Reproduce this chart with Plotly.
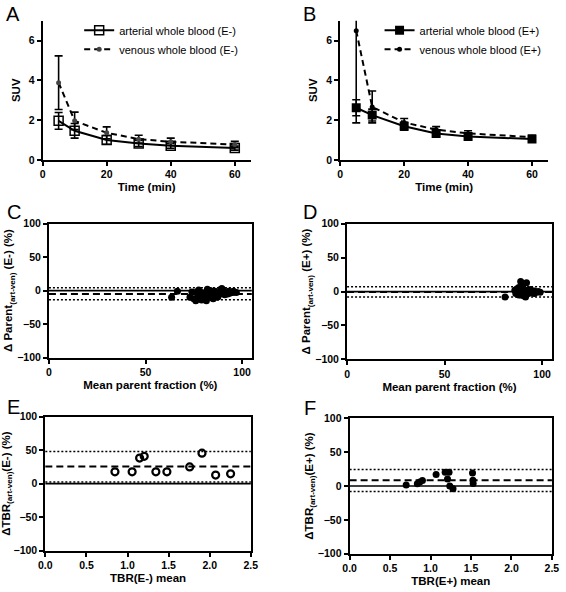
import plotly.graph_objects as go

# ---------------- data ----------------
time_min = [5, 10, 20, 30, 40, 60]

# Panel A (E-)
art_em_mean = [1.96, 1.46, 1.00, 0.82, 0.71, 0.59]
art_em_sd = [0.42, 0.37, 0.22, 0.15, 0.13, 0.10]
ven_em_mean = [3.88, 1.96, 1.36, 1.04, 0.91, 0.77]
ven_em_sd = [1.35, 0.44, 0.30, 0.20, 0.18, 0.16]

# Panel B (E+)
art_ep_mean = [2.62, 2.25, 1.69, 1.33, 1.17, 1.05]
art_ep_sd = [0.40, 0.30, 0.20, 0.15, 0.12, 0.10]
ven_ep_mean = [6.50, 2.66, 1.88, 1.52, 1.33, 1.14]
ven_ep_sd = [4.64, 0.80, 0.20, 0.15, 0.13, 0.10]

# Panel C: Bland-Altman parent fraction (E-)
c_mean = [63.5, 66.5, 73, 74, 75, 76, 77, 77.5, 78, 79, 80, 80.5, 81, 82, 82.5,
          83, 84, 84.5, 85, 85.5, 86, 86.5, 87, 87.5, 88, 88.5, 89, 89.5, 90,
          90.5, 91, 91.5, 92, 92.5, 93, 93.5, 94, 95, 95.5, 96, 97, 79, 81.5,
          83.5, 85, 87, 76.5, 78.5]
c_diff = [-10, -1, -10, -2, -12, -15, -5, 1, -8, -3, -12, -6, -9, 2, -4,
          -7, -10, -2, -5, -8, -1, -6, -3, -9, -2, -5, 2, 3, -4,
          -1, -6, -2, -3, -5, -1, -4, -2, -3, -1, -2, -3, -14, -15,
          0, -12, -10, -2, -11]
c_bias, c_upper, c_lower = -4.9, 4.4, -13.8

# Panel D: Bland-Altman parent fraction (E+)
d_mean = [81, 86, 86.5, 87, 87.5, 88, 88.5, 89, 89.5, 90, 90.5, 91, 91.5, 92,
          92.5, 93, 93.5, 94, 95, 95.5, 96, 97, 98, 99, 88, 90, 92, 94, 96, 89]
d_diff = [-8, 2, -3, 4, -1, -5, 1, 15, -2, 3, -6, 0, -8, 13,
          2, -3, 1, -1, 0, -2, 1, -1, 0, -1, 6, 8, -4, 3, -3, -5]
d_bias, d_upper, d_lower = -0.5, 7.0, -8.0

# Panel E: TBR (E-)
e_mean = [0.847, 1.056, 1.147, 1.203, 1.345, 1.479, 1.756, 1.906, 2.072, 2.254]
e_diff = [17.6, 17.6, 38.0, 40.6, 17.6, 17.6, 24.9, 45.4, 12.7, 14.6]
e_bias, e_upper, e_lower = 25.5, 48.0, 2.5

# Panel F: TBR (E+)
f_mean = [0.699, 0.837, 0.868, 0.900, 1.069, 1.181, 1.229, 1.210, 1.238,
          1.278, 1.519, 1.524, 1.527]
f_diff = [1.4, 3.3, 6.2, 8.2, 17.1, 20.3, 20.3, 10.6, 0.0, -3.9, 19.3, 8.7, 3.9]
f_bias, f_upper, f_lower = 8.7, 24.5, -8.2

# ---------------- figure ----------------
W, H = 566, 592
FONT = "Liberation Sans, Arial, sans-serif"
BLK = "black"


def xd(a, b):
    return [a / W, b / W]


def yd(top, bottom):
    return [1 - bottom / H, 1 - top / H]


fig = go.Figure()

err = dict(type="data", thickness=1.6, width=4, color=BLK)

# Panel A
fig.add_trace(go.Scatter(x=time_min, y=art_em_mean, mode="lines+markers",
                         name="arterial whole blood (E-)",
                         line=dict(color=BLK, width=2),
                         marker=dict(symbol="square-open", size=9, color=BLK,
                                     line=dict(width=1.5, color=BLK)),
                         error_y=dict(err, array=art_em_sd),
                         xaxis="x", yaxis="y", legend="legend"))
fig.add_trace(go.Scatter(x=time_min, y=ven_em_mean, mode="lines+markers",
                         name="venous whole blood (E-)",
                         line=dict(color=BLK, width=2, dash="6px,4px"),
                         marker=dict(symbol="circle", size=5, color="#444"),
                         error_y=dict(err, array=ven_em_sd),
                         xaxis="x", yaxis="y", legend="legend"))

# Panel B
fig.add_trace(go.Scatter(x=time_min, y=art_ep_mean, mode="lines+markers",
                         name="arterial whole blood (E+)",
                         line=dict(color=BLK, width=2),
                         marker=dict(symbol="square", size=9, color=BLK),
                         error_y=dict(err, array=art_ep_sd),
                         xaxis="x2", yaxis="y2", legend="legend2"))
fig.add_trace(go.Scatter(x=time_min, y=ven_ep_mean, mode="lines+markers",
                         name="venous whole blood (E+)",
                         line=dict(color=BLK, width=2, dash="6px,4px"),
                         marker=dict(symbol="circle", size=5, color=BLK),
                         error_y=dict(err, array=ven_ep_sd),
                         xaxis="x2", yaxis="y2", legend="legend2"))

# Panels C-F scatter
fig.add_trace(go.Scatter(x=c_mean, y=c_diff, mode="markers", showlegend=False,
                         marker=dict(symbol="circle", size=7, color=BLK),
                         xaxis="x3", yaxis="y3"))
fig.add_trace(go.Scatter(x=d_mean, y=d_diff, mode="markers", showlegend=False,
                         marker=dict(symbol="circle", size=7, color=BLK),
                         xaxis="x4", yaxis="y4"))
fig.add_trace(go.Scatter(x=e_mean, y=e_diff, mode="markers", showlegend=False,
                         marker=dict(symbol="circle-open", size=7, color=BLK,
                                     line=dict(width=2.2, color=BLK)),
                         xaxis="x5", yaxis="y5"))
fig.add_trace(go.Scatter(x=f_mean, y=f_diff, mode="markers", showlegend=False,
                         marker=dict(symbol="circle", size=7, color=BLK),
                         xaxis="x6", yaxis="y6"))

# reference lines (zero, bias, limits of agreement)
shapes = []
for n, (bias, up, lo) in zip([3, 4, 5, 6], [(c_bias, c_upper, c_lower),
                                            (d_bias, d_upper, d_lower),
                                            (e_bias, e_upper, e_lower),
                                            (f_bias, f_upper, f_lower)]):
    for val, dash, wd in [(0, "solid", 1.6), (bias, "7px,4px", 2),
                          (up, "2px,2px", 1.5), (lo, "2px,2px", 1.5)]:
        shapes.append(dict(type="line", xref=f"x{n} domain", yref=f"y{n}",
                           x0=0, x1=1, y0=val, y1=val,
                           line=dict(color=BLK, width=wd, dash=dash)))

tickfont = dict(family=FONT, size=10.5, color=BLK, weight="bold")
titlefont = dict(family=FONT, size=11.5, color=BLK, weight="bold")


def ax(domain, rng, dtick, title, standoff, mirror=False, tickformat=None):
    d = dict(domain=domain, range=rng, dtick=dtick, tick0=0,
             showline=True, linecolor=BLK, linewidth=2, mirror=mirror,
             ticks="outside", ticklen=4, tickwidth=1.6, tickcolor=BLK,
             showgrid=False, zeroline=False, tickfont=tickfont,
             title=dict(text=title, font=titlefont, standoff=standoff),
             fixedrange=True)
    if tickformat:
        d["tickformat"] = tickformat
    return d


layout = dict(
    width=W, height=H, margin=dict(l=0, r=0, t=0, b=0),
    paper_bgcolor="white", plot_bgcolor="white",
    font=dict(family=FONT, color=BLK),
    shapes=shapes,
    # A
    xaxis=ax(xd(36.5, 250), [0, 65], 20, "Time (min)", 4),
    yaxis=ax(yd(15, 157), [0, 7], 2, "SUV", 6),
    # B
    xaxis2=ax(xd(341.7, 554.7), [0, 65], 20, "Time (min)", 4),
    yaxis2=ax(yd(15, 157), [0, 7], 2, "SUV", 6),
    # C
    xaxis3=ax(xd(43, 251), [0, 105], 50, "Mean parent fraction (%)", 4, True),
    yaxis3=ax(yd(222, 359), [-100, 100], 50,
              "Δ Parent<sub>(art-ven)</sub> (E-) (%)", 2, True),
    # D
    xaxis4=ax(xd(348.7, 558.7), [0, 105], 50, "Mean parent fraction (%)", 4, True),
    yaxis4=ax(yd(222.3, 360.7), [-100, 100], 50,
              "Δ Parent<sub>(art-ven)</sub> (E+) (%)", 2, True),
    # E
    xaxis5=ax(xd(39.3, 250), [0, 2.5], 0.5, "TBR(E-) mean", 4, True, ".1f"),
    yaxis5=ax(yd(419, 556), [-100, 100], 50,
              "ΔTBR<sub>(art-ven)</sub>(E-) (%)", 2, True),
    # F
    xaxis6=ax(xd(351.3, 558.7), [0, 2.5], 0.5, "TBR(E+) mean", 4, True, ".1f"),
    yaxis6=ax(yd(421, 559), [-100, 100], 50,
              "ΔTBR<sub>(art-ven)</sub>(E+) (%)", 2, True),
    legend=dict(x=74 / W, y=1 - 10 / H, xanchor="left", yanchor="top",
                bgcolor="rgba(0,0,0,0)", itemwidth=30,
                font=dict(family=FONT, size=11, color=BLK)),
    legend2=dict(x=382 / W, y=1 - 10 / H, xanchor="left", yanchor="top",
                 bgcolor="rgba(0,0,0,0)", itemwidth=30,
                 font=dict(family=FONT, size=11, color=BLK)),
)

for i in range(1, 7):
    key = "xaxis" if i == 1 else f"xaxis{i}"
    layout[key]["anchor"] = "y" if i == 1 else f"y{i}"
    ykey = "yaxis" if i == 1 else f"yaxis{i}"
    layout[ykey]["anchor"] = "x" if i == 1 else f"x{i}"

letters = [("A", 6.5, 8), ("B", 310, 8), ("C", 7.5, 210.5),
           ("D", 310.5, 210.5), ("E", 6.5, 409.5), ("F", 310.5, 410)]
layout["annotations"] = [
    dict(text=t, x=x / W, y=1 - y / H, xref="paper", yref="paper",
         showarrow=False, xanchor="center", yanchor="middle",
         font=dict(family=FONT, size=20, color=BLK, weight="normal"))
    for t, x, y in letters
]

fig.update_layout(**layout)
fig.write_html(
    "out.html",
    config={"displayModeBar": False},
    post_script="document.body.style.margin='0';"
                "document.body.style.overflow='hidden';",
)
